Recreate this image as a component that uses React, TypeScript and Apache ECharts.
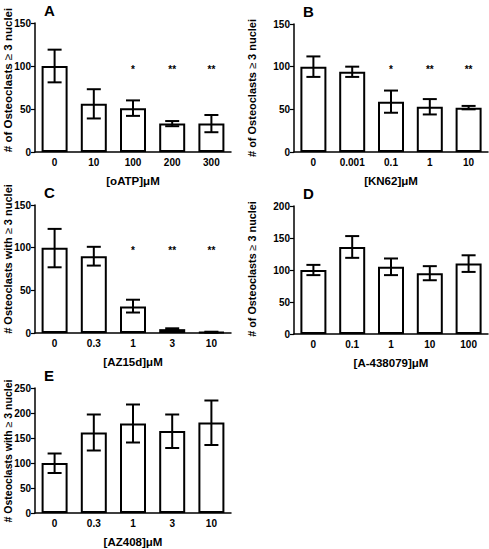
import React, { useEffect, useRef } from "react";
import * as echarts from "echarts";

const catsA = ["0", "10", "100", "200", "300"];
const meanA = [100, 56, 51, 33, 33];
const lowA = [81, 39, 42, 30, 23];
const highA = [119, 73, 60, 36, 43];
const starsA = ["", "", "*", "**", "**"];

const catsB = ["0", "0.001", "0.1", "1", "10"];
const meanB = [100, 94, 59, 53, 52];
const lowB = [88, 88, 46, 44, 50];
const highB = [112, 100, 72, 62, 54];
const starsB = ["", "", "*", "**", "**"];

const catsC = ["0", "0.3", "1", "3", "10"];
const meanC = [100, 90, 31, 4.5, 1];
const lowC = [77, 79, 24, 3.5, 0.5];
const highC = [122, 101, 39, 5.5, 1.5];
const starsC = ["", "", "*", "**", "**"];

const catsD = ["0", "0.1", "1", "10", "100"];
const meanD = [100, 136, 105, 95, 110];
const lowD = [92, 119, 92, 84, 97];
const highD = [108, 153, 118, 106, 123];

const catsE = ["0", "0.3", "1", "3", "10"];
const meanE = [100, 161, 179, 164, 181];
const lowE = [80, 125, 141, 130, 136];
const highE = [119, 197, 217, 197, 225];

const yNameOf = "# of Osteoclasts {n|≥} 3 nuclei";
const yNameWith = "# Osteoclasts with {n|≥} 3 nuclei";

const FONT = "'Liberation Sans', Arial, Helvetica, sans-serif";

const panels = [
  { letter: "A", cats: catsA, mean: meanA, low: lowA, high: highA, stars: starsA, max: 150, starAt: 100, yName: yNameOf, xName: "[oATP]μM" },
  { letter: "B", cats: catsB, mean: meanB, low: lowB, high: highB, stars: starsB, max: 150, starAt: 100, yName: yNameOf, xName: "[KN62]μM" },
  { letter: "C", cats: catsC, mean: meanC, low: lowC, high: highC, stars: starsC, max: 150, starAt: 100, yName: yNameWith, xName: "[AZ15d]μM" },
  { letter: "D", cats: catsD, mean: meanD, low: lowD, high: highD, stars: null, max: 200, starAt: 100, yName: yNameOf, xName: "[A-438079]μM" },
  { letter: "E", cats: catsE, mean: meanE, low: lowE, high: highE, stars: null, max: 250, starAt: 100, yName: yNameWith, xName: "[AZ408]μM" },
];

// layout: grid box, y-name centre and font size
const layout = [
  { grid: { left: 35, top: 23, width: 196, height: 129 }, yx: 7.5, yy: 80, yf: 11.5 },
  { grid: { left: 294, top: 24, width: 194, height: 128 }, yx: 252, yy: 88, yf: 11 },
  { grid: { left: 35, top: 205, width: 196, height: 128 }, yx: 7.5, yy: 259, yf: 11 },
  { grid: { left: 294, top: 206, width: 194, height: 128 }, yx: 252, yy: 269, yf: 10.8 },
  { grid: { left: 35, top: 388, width: 196, height: 128 }, yx: 7.5, yy: 451, yf: 10.5 },
];

export default function App() {
  const ref = useRef<HTMLDivElement>(null);
  useEffect(() => {
    document.body.style.margin = "0";
    const chart = echarts.init(ref.current!, null, { renderer: "svg" });
    const grid: any[] = [];
    const xAxis: any[] = [];
    const yAxis: any[] = [];
    const series: any[] = [];
    const graphic: any[] = [];
    panels.forEach((p, i) => {
      const L = layout[i];
      grid.push({ ...L.grid, containLabel: false });
      xAxis.push({
        type: "category", gridIndex: i, data: p.cats,
        axisLine: { lineStyle: { color: "#000", width: 1.5 } },
        axisTick: { alignWithLabel: true, length: 3, lineStyle: { color: "#000", width: 1.2 } },
        axisLabel: { color: "#000", fontFamily: FONT, fontWeight: "bold", fontSize: 10, margin: 5 },
        name: p.xName, nameLocation: "middle", nameGap: 23,
        nameTextStyle: { color: "#000", fontFamily: FONT, fontWeight: "bold", fontSize: 11.5 },
      });
      yAxis.push({
        type: "value", gridIndex: i, min: 0, max: p.max, interval: 50,
        splitLine: { show: false },
        axisLine: { show: true, lineStyle: { color: "#000", width: 1.5 } },
        axisTick: { show: true, length: 4, lineStyle: { color: "#000", width: 1.2 } },
        axisLabel: { color: "#000", fontFamily: FONT, fontWeight: "bold", fontSize: 10, margin: 4 },
      });
      series.push({
        type: "bar", xAxisIndex: i, yAxisIndex: i, data: p.mean, barWidth: 26,
        itemStyle: { color: "#fff", borderColor: "#000", borderWidth: 2 },
        silent: true,
      });
      const low = p.low, high = p.high;
      series.push({
        type: "custom", xAxisIndex: i, yAxisIndex: i,
        data: p.mean.map((_, k) => [k, low[k], high[k]]),
        renderItem: (params: any, api: any) => {
          const lo = api.coord([api.value(0), api.value(1)]);
          const hi = api.coord([api.value(0), api.value(2)]);
          const w = 7;
          const st = { stroke: "#000", lineWidth: 2 };
          return {
            type: "group",
            children: [
              { type: "line", shape: { x1: lo[0], y1: lo[1], x2: hi[0], y2: hi[1] }, style: st },
              { type: "line", shape: { x1: lo[0] - w, y1: lo[1], x2: lo[0] + w, y2: lo[1] }, style: st },
              { type: "line", shape: { x1: hi[0] - w, y1: hi[1], x2: hi[0] + w, y2: hi[1] }, style: st },
            ],
          };
        },
        z: 5,
      });
      if (p.stars) {
        const stars = p.stars;
        series.push({
          type: "custom", xAxisIndex: i, yAxisIndex: i,
          data: stars.map((_, k) => [k, p.starAt]),
          renderItem: (params: any, api: any) => {
            const c = api.coord([api.value(0), api.value(1)]);
            return {
              type: "text",
              style: { text: stars[params.dataIndex], x: c[0], y: c[1] + 3, align: "center", verticalAlign: "middle",
                fill: "#000", font: `bold 10px ${FONT}` },
            };
          },
        });
      }
      graphic.push({
        type: "text", left: L.grid.left + 9, top: L.grid.top - 20,
        style: { text: p.letter, fill: "#000", font: `bold 15px ${FONT}` },
      });
      graphic.push({
        type: "text", x: L.yx, y: L.yy, rotation: Math.PI / 2,
        style: {
          text: p.yName, fill: "#000", font: `bold ${L.yf}px ${FONT}`,
          align: "center", verticalAlign: "middle",
          rich: { n: { fill: "#000", font: `normal ${L.yf}px ${FONT}` } },
        },
      });
    });
    chart.setOption({ animation: false, grid, xAxis, yAxis, series, graphic });
    return () => chart.dispose();
  }, []);
  return <div ref={ref} style={{ width: 489, height: 549 }} />;
}
